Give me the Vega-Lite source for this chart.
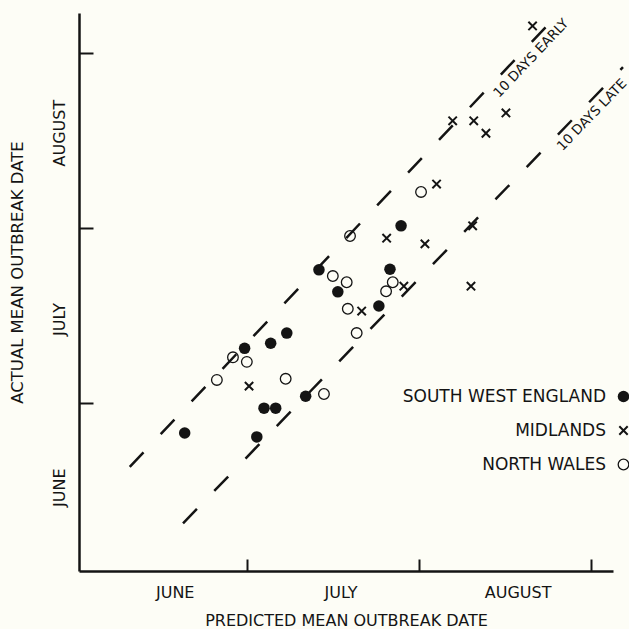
{
  "$schema": "https://vega.github.io/schema/vega-lite/v6.json",
  "width": 534,
  "height": 558,
  "autosize": {"type": "none"},
  "padding": {"left": 79, "top": 13, "right": 16, "bottom": 58},
  "background": "#fdfdf6",
  "config": {
    "view": {"stroke": null},
    "font": "DejaVu Sans",
    "axis": {
      "grid": false,
      "domainColor": "#141414",
      "domainWidth": 2.5,
      "tickColor": "#141414",
      "tickWidth": 2,
      "labelColor": "#141414",
      "labelFontSize": 16,
      "labelFlush": false,
      "labelOverlap": false,
      "titleColor": "#141414",
      "titleFontSize": 16,
      "titleFontWeight": "normal"
    }
  },
  "datasets": {
    "outbreaks": [
      {"region": "SOUTH WEST ENGLAND", "predicted": 18.8, "actual": 24.7},
      {"region": "SOUTH WEST ENGLAND", "predicted": 29.6, "actual": 39.7},
      {"region": "SOUTH WEST ENGLAND", "predicted": 34.3, "actual": 40.6},
      {"region": "SOUTH WEST ENGLAND", "predicted": 37.2, "actual": 42.4},
      {"region": "SOUTH WEST ENGLAND", "predicted": 31.8, "actual": 24.0},
      {"region": "SOUTH WEST ENGLAND", "predicted": 33.1, "actual": 29.1},
      {"region": "SOUTH WEST ENGLAND", "predicted": 35.2, "actual": 29.1},
      {"region": "SOUTH WEST ENGLAND", "predicted": 40.6, "actual": 31.2},
      {"region": "SOUTH WEST ENGLAND", "predicted": 43.0, "actual": 53.6},
      {"region": "SOUTH WEST ENGLAND", "predicted": 46.4, "actual": 49.7},
      {"region": "SOUTH WEST ENGLAND", "predicted": 53.8, "actual": 47.2},
      {"region": "SOUTH WEST ENGLAND", "predicted": 55.8, "actual": 53.7},
      {"region": "SOUTH WEST ENGLAND", "predicted": 57.8, "actual": 61.4},
      {"region": "MIDLANDS", "predicted": 30.4, "actual": 33.0},
      {"region": "MIDLANDS", "predicted": 55.2, "actual": 59.2},
      {"region": "MIDLANDS", "predicted": 50.7, "actual": 46.3},
      {"region": "MIDLANDS", "predicted": 58.3, "actual": 50.7},
      {"region": "MIDLANDS", "predicted": 64.2, "actual": 68.8},
      {"region": "MIDLANDS", "predicted": 70.7, "actual": 61.4},
      {"region": "MIDLANDS", "predicted": 62.1, "actual": 58.2},
      {"region": "MIDLANDS", "predicted": 70.4, "actual": 50.7},
      {"region": "MIDLANDS", "predicted": 67.1, "actual": 80.0},
      {"region": "MIDLANDS", "predicted": 70.9, "actual": 80.0},
      {"region": "MIDLANDS", "predicted": 73.1, "actual": 77.8},
      {"region": "MIDLANDS", "predicted": 76.7, "actual": 81.4},
      {"region": "MIDLANDS", "predicted": 81.5, "actual": 96.8},
      {"region": "NORTH WALES", "predicted": 27.5, "actual": 38.1},
      {"region": "NORTH WALES", "predicted": 30.0, "actual": 37.3},
      {"region": "NORTH WALES", "predicted": 24.6, "actual": 34.1},
      {"region": "NORTH WALES", "predicted": 37.0, "actual": 34.3},
      {"region": "NORTH WALES", "predicted": 43.9, "actual": 31.6},
      {"region": "NORTH WALES", "predicted": 48.6, "actual": 59.6},
      {"region": "NORTH WALES", "predicted": 45.5, "actual": 52.5},
      {"region": "NORTH WALES", "predicted": 48.0, "actual": 51.4},
      {"region": "NORTH WALES", "predicted": 48.2, "actual": 46.7},
      {"region": "NORTH WALES", "predicted": 49.8, "actual": 42.4},
      {"region": "NORTH WALES", "predicted": 56.3, "actual": 51.4},
      {"region": "NORTH WALES", "predicted": 55.1, "actual": 49.8},
      {"region": "NORTH WALES", "predicted": 61.4, "actual": 67.4}
    ],
    "guides": [
      {"guide": "10 DAYS EARLY", "predicted": 8.9, "actual": 18.7},
      {"guide": "10 DAYS EARLY", "predicted": 85.9, "actual": 98.7},
      {"guide": "10 DAYS LATE", "predicted": 18.5, "actual": 8.7},
      {"guide": "10 DAYS LATE", "predicted": 97.8, "actual": 89.5}
    ]
  },
  "encoding": {
    "x": {
      "field": "predicted",
      "type": "quantitative",
      "scale": {"domain": [-0.25, 96], "nice": false, "zero": false},
      "axis": {
        "title": "PREDICTED MEAN OUTBREAK DATE",
        "values": [17, 30, 46.9, 61, 78.8, 92],
        "labelExpr": "datum.value == 17 ? 'JUNE' : datum.value == 46.9 ? 'JULY' : datum.value == 78.8 ? 'AUGUST' : ''",
        "tickOpacity": {"condition": {"test": "datum.value == 30 || datum.value == 61 || datum.value == 92", "value": 1}, "value": 0},
        "tickSize": -12,
        "labelPadding": 25,
        "titlePadding": 12
      }
    },
    "y": {
      "field": "actual",
      "type": "quantitative",
      "scale": {"domain": [0.25, 99.1], "nice": false, "zero": false},
      "axis": {
        "title": "ACTUAL MEAN OUTBREAK DATE",
        "values": [15.1, 30, 44.9, 61, 77.9, 92],
        "labelExpr": "datum.value == 15.1 ? 'JUNE' : datum.value == 44.9 ? 'JULY' : datum.value == 77.9 ? 'AUGUST' : ''",
        "tickOpacity": {"condition": {"test": "datum.value == 30 || datum.value == 61 || datum.value == 92", "value": 1}, "value": 0},
        "tickSize": -14,
        "labelAngle": 270,
        "labelAlign": "center",
        "labelBaseline": "bottom",
        "labelPadding": 26,
        "titlePadding": 26,
        "titleFontSize": 16.5,
        "titleY": 259
      }
    }
  },
  "layer": [
    {
      "data": {"name": "guides"},
      "mark": {"type": "line", "stroke": "#141414", "strokeWidth": 2.5, "strokeDash": [20, 25], "clip": false},
      "encoding": {"detail": {"field": "guide"}}
    },
    {
      "data": {"name": "guides"},
      "transform": [
        {"joinaggregate": [{"op": "max", "field": "predicted", "as": "end"}], "groupby": ["guide"]},
        {"filter": "datum.predicted == datum.end && datum.guide == '10 DAYS EARLY'"}
      ],
      "mark": {"type": "text", "angle": 313.4, "align": "right", "baseline": "top", "dx": 2, "dy": 4, "fontSize": 13.5, "fill": "#141414", "clip": false},
      "encoding": {"text": {"field": "guide"}}
    },
    {
      "data": {"name": "guides"},
      "transform": [
        {"joinaggregate": [{"op": "max", "field": "predicted", "as": "end"}], "groupby": ["guide"]},
        {"filter": "datum.predicted == datum.end && datum.guide == '10 DAYS LATE'"}
      ],
      "mark": {"type": "text", "angle": 314, "align": "right", "baseline": "top", "dx": -9, "dy": 4, "fontSize": 13.5, "fill": "#141414", "clip": false},
      "encoding": {"text": {"field": "guide"}}
    },
    {
      "data": {"name": "outbreaks"},
      "mark": {"type": "point", "stroke": "#141414", "opacity": 1, "clip": false},
      "encoding": {
        "shape": {
          "field": "region",
          "type": "nominal",
          "scale": {"domain": ["SOUTH WEST ENGLAND", "MIDLANDS", "NORTH WALES"], "range": ["circle", "M-1,-1L1,1M-1,1L1,-1", "circle"]},
          "legend": {
            "orient": "none",
            "legendX": 536,
            "legendY": 375,
            "title": null,
            "labelFontSize": 17,
            "labelColor": "#141414",
            "labelAlign": "right",
            "labelOffset": -26,
            "labelLimit": 0,
            "rowPadding": 16,
            "symbolStrokeColor": "#141414",
            "symbolOpacity": 1
          }
        },
        "fill": {
          "field": "region",
          "type": "nominal",
          "scale": {"domain": ["SOUTH WEST ENGLAND", "MIDLANDS", "NORTH WALES"], "range": ["#141414", "transparent", "transparent"]}
        },
        "size": {
          "field": "region",
          "type": "nominal",
          "scale": {"type": "ordinal", "domain": ["SOUTH WEST ENGLAND", "MIDLANDS", "NORTH WALES"], "range": [133, 70, 113]}
        },
        "strokeWidth": {
          "field": "region",
          "type": "nominal",
          "scale": {"type": "ordinal", "domain": ["SOUTH WEST ENGLAND", "MIDLANDS", "NORTH WALES"], "range": [0, 2, 1.3]}
        }
      }
    }
  ]
}
